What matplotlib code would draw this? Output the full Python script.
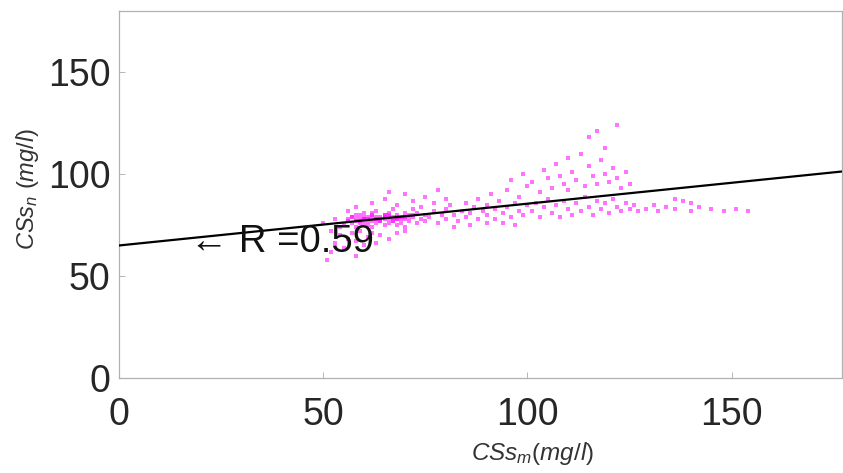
import matplotlib
matplotlib.use("Agg")
import matplotlib.pyplot as plt

plt.rcParams['font.family'] = ['Liberation Sans', 'DejaVu Sans']
plt.rcParams['mathtext.fontset'] = 'custom'
plt.rcParams['mathtext.rm'] = 'Liberation Sans'
plt.rcParams['mathtext.it'] = 'Liberation Sans:italic'

# Measured vs. predicted suspended solids concentration (mg/l)
css_m = [
    55, 56, 57, 57, 58, 58, 59, 59, 60, 60, 60, 61, 61, 62, 62, 62, 63, 63, 63, 64,
    64, 65, 65, 65, 66, 66, 66, 67, 67, 68, 68, 68, 69, 69, 70, 70, 70, 71, 71, 72,
    72, 73, 73, 74, 74, 75, 75,
    56, 57, 58, 59, 60, 61, 62, 63, 64, 65, 66, 67, 68, 59, 61, 63, 65, 67, 69, 71,
    58, 60, 62, 64, 66, 68, 70, 72,
    51, 52, 53, 54, 55, 56, 57, 58, 58, 59, 60, 61, 62, 63, 64, 66, 68, 70, 52, 54,
    50, 53, 56, 58,
    62, 65, 68, 70, 72, 75, 77, 78, 80, 66,
    76, 77, 78, 79, 80, 80, 81, 82, 83, 84, 85, 85, 86, 87, 88, 88, 89, 90, 90, 91,
    92, 92, 93, 94, 95, 95, 96, 97, 98, 98, 99, 100, 100, 82, 86, 90, 94, 97,
    96, 99, 101, 103, 104, 105, 106, 107, 108, 109, 110, 110, 111, 112, 113, 114, 115, 115,
    116, 117, 117, 118, 119, 119, 120, 121, 122, 122, 123, 124, 125,
    101, 102, 103, 104, 105, 106, 107, 108, 109, 110, 111, 112, 113, 114, 115, 116, 117, 118,
    119, 120, 121, 122, 123, 124, 125, 126, 127,
    129, 131, 132, 134, 136, 138, 140, 142, 145, 148, 151, 154, 136, 140,
]
css_n = [
    75, 77, 76, 79, 78, 74, 77, 80, 76, 78, 81, 75, 79, 77, 80, 74, 78, 76, 82, 79,
    77, 75, 80, 78, 76, 81, 79, 77, 83, 78, 75, 80, 79, 76, 81, 78, 74, 80, 77, 79,
    83, 76, 81, 78, 84, 80, 77,
    78, 79, 77, 78, 79, 78, 79, 78, 77, 79, 78, 79, 78, 76, 77, 79, 80, 77, 78, 79,
    80, 78, 81, 78, 80, 79, 79, 80,
    58, 62, 66, 70, 64, 68, 71, 60, 67, 72, 65, 69, 71, 66, 70, 68, 71, 72, 72, 74,
    76, 78, 82, 84,
    86, 88, 85, 90, 87, 89, 86, 92, 88, 91,
    79, 82, 76, 80, 83, 78, 85, 80, 77, 82, 86, 79, 81, 84, 78, 88, 82, 80, 85, 90,
    83, 78, 87, 81, 84, 92, 79, 86, 82, 89, 80, 85, 94, 74, 75, 76, 76, 75,
    97, 100, 96, 91, 102, 98, 93, 105, 99, 95, 108, 92, 101, 97, 110, 94, 104, 118,
    99, 121, 95, 107, 113, 100, 96, 103, 98, 124, 93, 101, 95,
    82, 86, 79, 84, 88, 81, 85, 79, 87, 83, 80, 86, 82, 89, 84, 80, 87, 83,
    86, 81, 88, 84, 82, 86, 83, 85, 82,
    83, 85, 82, 84, 83, 87, 82, 84, 83, 82, 83, 82, 88, 86,
]

# Linear fit shown across the axis range
fit_intercept = 65.0
fit_slope = 0.205
fit_x = [0, 180]
r_value = 0.59

x_ticks = [0, 50, 100, 150]
y_ticks = [0, 50, 100, 150]

fig = plt.figure(figsize=(8.43, 4.73), dpi=100)
ax = fig.add_axes([119 / 843, 1 - 378 / 473, (842 - 119) / 843, (378 - 11) / 473])

ax.scatter(css_m, css_n, s=11, marker='s', color='#ff00ff', alpha=0.55,
           linewidths=0, zorder=2)
ax.plot(fit_x, [fit_intercept + fit_slope * v for v in fit_x],
        color='black', lw=1.6, zorder=3)

ax.text(17.5, 66.5, '\u2190 R =%.2f' % r_value, fontsize=27.5, color='#111111',
        ha='left', va='center', zorder=4)

ax.set_xlim(0, 177)
ax.set_ylim(0, 180)
ax.set_xticks(x_ticks)
ax.set_yticks(y_ticks)
ax.tick_params(axis='both', direction='in', length=4, width=0.6, color='#aaaaaa',
               labelsize=27, labelcolor='#262626')
ax.tick_params(axis='x', pad=14)
ax.tick_params(axis='y', pad=6)
for sp in ax.spines.values():
    sp.set_color('#b0b0b0')
    sp.set_linewidth(0.9)

ax.set_xlabel(r'$\mathit{CSs}_{\mathit{m}}\mathit{(mg/l)}$', fontsize=17.5, color='#333333')
ax.xaxis.set_label_coords((532 - 119) / (842 - 119), -(440 - 378) / (378 - 11))
ax.set_ylabel(r'$\mathit{CSs}_{\mathit{n}}\ \mathit{(mg/l)}$', fontsize=17, color='#333333')
ax.yaxis.set_label_coords(-(119 - 41) / (842 - 119), (378 - 189) / (378 - 11))

fig.savefig('out.png', dpi=100, facecolor='white')
